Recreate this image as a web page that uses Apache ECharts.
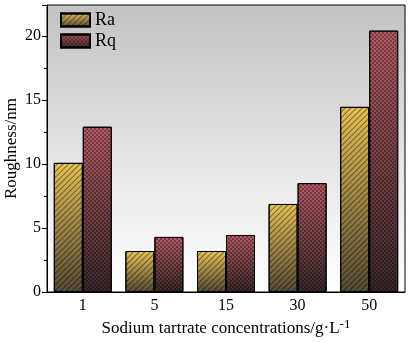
<!DOCTYPE html>
<html>
<head>
<meta charset="utf-8">
<script src="https://cdn.jsdelivr.net/npm/echarts@6/dist/echarts.min.js"></script>
<style>
  html, body { margin: 0; padding: 0; background: #fff; }
  #chart { width: 410px; height: 342px; }
</style>
</head>
<body>
<div id="chart"></div>
<script>
// concentrations of sodium tartrate, g/L
var categories = ['1', '5', '15', '30', '50'];
var raValues = [10.08, 3.2, 3.2, 6.87, 14.45];
var rqValues = [12.9, 4.3, 4.45, 8.5, 20.4];
var yTicks = [0, 5, 10, 15, 20];

var font = '"Liberation Serif", "Times New Roman", serif';

function barGradient(top, bottom) {
    return {
        type: 'linear', x: 0, y: 0, x2: 0, y2: 1,
        colorStops: [{offset: 0, color: top}, {offset: 1, color: bottom}]
    };
}

var chart = echarts.init(document.getElementById('chart'));
var option = {
    backgroundColor: '#fff',
    animation: false,
    textStyle: { fontFamily: font },
    grid: {
        left: 47, right: 5, top: 5, bottom: 50,
        containLabel: false,
        outerBoundsMode: 'none',
        show: true,
        borderColor: '#000',
        borderWidth: 1,
        backgroundColor: {
            type: 'linear', x: 0, y: 0, x2: 0, y2: 1,
            colorStops: [
                {offset: 0, color: '#c2c2c2'},
                {offset: 0.5, color: '#e2e2e2'},
                {offset: 1, color: '#ffffff'}
            ]
        }
    },
    legend: {
        orient: 'vertical',
        left: 55, top: 6,
        icon: 'rect',
        itemWidth: 29, itemHeight: 13, itemGap: 3,
        textStyle: { fontFamily: font, fontSize: 18, lineHeight: 18, color: '#000' },
        data: ['Ra', 'Rq']
    },
    xAxis: {
        type: 'category',
        data: categories,
        name: 'Sodium tartrate concentrations/g·L{sup|-1}',
        nameLocation: 'middle',
        nameGap: 26,
        nameMoveOverlap: false,
        nameTextStyle: {
            fontFamily: font, fontSize: 17, color: '#000',
            rich: { sup: { fontFamily: font, fontSize: 13, verticalAlign: 'top', padding: [0, 0, 8, 0] } }
        },
        axisLine: { lineStyle: { color: '#000' } },
        axisTick: { inside: true, length: 4, lineStyle: { color: '#000' } },
        axisLabel: { fontFamily: font, fontSize: 16, color: '#000', margin: 6 }
    },
    yAxis: {
        type: 'value',
        min: 0, max: 22.4, interval: 5,
        name: 'Roughness/nm',
        nameLocation: 'middle',
        nameGap: 27,
        nameMoveOverlap: false,
        nameTextStyle: { fontFamily: font, fontSize: 17, color: '#000' },
        axisLine: { show: true, lineStyle: { color: '#000' } },
        axisTick: { show: true, length: 5, lineStyle: { color: '#000' } },
        minorTick: { show: true, splitNumber: 2, length: 3, lineStyle: { color: '#000' } },
        splitLine: { show: false },
        axisLabel: {
            fontFamily: font, fontSize: 16, color: '#000', margin: 6,
            formatter: function (v) { return yTicks.indexOf(v) >= 0 ? String(v) : ''; }
        }
    },
    series: [
        {
            name: 'Ra', type: 'bar', data: raValues,
            barWidth: 29, barGap: '0%',
            itemStyle: {
                color: barGradient('#e8c256', '#554a36'),
                borderColor: '#000', borderWidth: 1,
                decal: {
                    symbol: 'rect', symbolSize: 1,
                    dashArrayX: [1, 0], dashArrayY: [1, 3],
                    rotation: -Math.PI / 4,
                    color: 'rgba(0,0,0,0.45)'
                }
            }
        },
        {
            name: 'Rq', type: 'bar', data: rqValues,
            barWidth: 29, barGap: '0%',
            itemStyle: {
                color: barGradient('#b85c66', '#3a2829'),
                borderColor: '#000', borderWidth: 1,
                decal: {
                    symbol: 'rect', symbolSize: 1,
                    dashArrayX: [[2, 2], [0, 2, 2, 0]], dashArrayY: [2, 0],
                    color: 'rgba(0,0,0,0.35)'
                }
            }
        }
    ]
};
chart.setOption(option);
window.addEventListener('resize', function () {
    chart.resize();
});
</script>
</body>
</html>
